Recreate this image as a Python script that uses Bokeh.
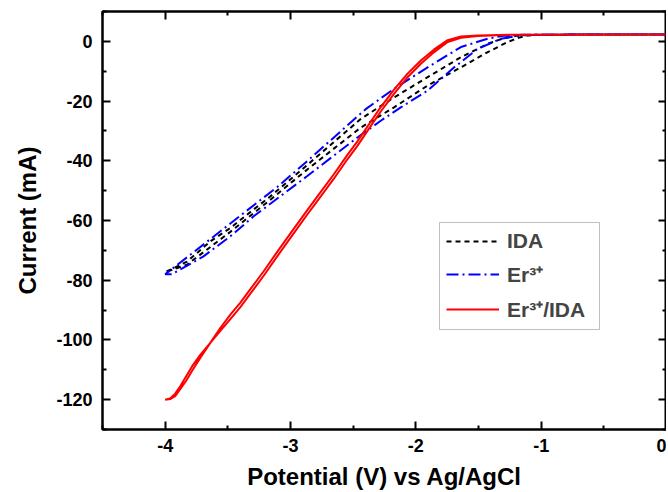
from bokeh.plotting import figure
from bokeh.models import Range1d, LinearAxis, FixedTicker, Legend, LegendItem
from bokeh.embed import file_html
from bokeh.resources import INLINE

# ---- data (potential in V vs Ag/AgCl, current in mA) ----
# IDA: cathodic sweep (0 -> -4 V) and return sweep (-4 -> 0 V)
ida_fwd_v = [0.0, -0.6, -1.0, -1.1, -1.18, -1.266, -1.426, -1.64, -1.906, -2.174, -2.44, -2.866, -3.174, -3.48, -3.826, -4.0]
ida_fwd_i = [2.3, 2.3, 2.2, 2.0, 1.2, -0.2, -3.6, -8.7, -14.8, -22.1, -28.9, -42.9, -53.5, -63.8, -74.8, -77.3]
ida_rev_v = [-4.0, -3.826, -3.64, -3.48, -3.294, -3.174, -2.866, -2.44, -2.174, -1.906, -1.64, -1.426, -1.3, -1.18, -1.05, -0.6, 0.0]
ida_rev_i = [-77.3, -73.8, -67.0, -62.5, -56.3, -52.4, -41.4, -26.0, -18.8, -12.0, -5.3, -0.8, 1.0, 2.0, 2.2, 2.3, 2.3]

# Er3+
er_fwd_v = [0.0, -0.6, -1.15, -1.32, -1.506, -1.694, -1.906, -2.12, -2.28, -2.466, -2.866, -3.294, -3.48, -3.694, -3.946, -4.0]
er_fwd_i = [2.3, 2.3, 2.1, 0.9, -2.5, -8.7, -16.5, -22.1, -26.6, -32.2, -45.1, -58.6, -65.3, -72.0, -78.0, -78.0]
er_rev_v = [-4.0, -3.8, -3.48, -3.106, -2.866, -2.4, -2.174, -1.906, -1.64, -1.426, -1.3, -1.15, -0.6, 0.0]
er_rev_i = [-78.0, -71.5, -61.0, -48.8, -40.1, -22.7, -15.9, -8.7, -1.9, 0.9, 1.9, 2.2, 2.3, 2.3]

# Er3+/IDA
erida_fwd_v = [0.0, -1.24, -1.506, -1.64, -1.746, -1.854, -1.96, -2.066, -2.174, -2.28, -2.386, -2.466,
               -2.546, -2.654, -2.76, -2.866, -2.986, -3.106, -3.214, -3.32, -3.40, -3.48, -3.56, -3.64,
               -3.72, -3.78, -3.83, -3.88, -3.92, -3.96, -4.0]
erida_fwd_i = [2.3, 2.2, 1.8, 1.2, -0.2, -3.6, -7.5, -12.0, -17.6, -23.5, -30.0, -35.0,
               -39.5, -46.0, -52.0, -58.0, -65.0, -72.0, -78.5, -84.5, -89.0, -93.0, -97.0, -101.0,
               -105.0, -108.5, -112.0, -115.5, -118.0, -119.6, -120.0]
erida_rev_v = [-4.0, -3.96, -3.92, -3.88, -3.83, -3.78, -3.72, -3.64, -3.56, -3.48, -3.40, -3.32,
               -3.214, -3.106, -2.986, -2.866, -2.76, -2.654, -2.546, -2.466, -2.386, -2.28, -2.174,
               -2.066, -1.96, -1.854, -1.746, -1.64, -1.506, -1.24, 0.0]
erida_rev_i = [-120.0, -119.8, -118.8, -116.5, -113.5, -110.0, -106.0, -101.0, -96.0, -91.5, -87.5, -83.0,
               -77.0, -70.5, -63.5, -56.5, -50.5, -44.5, -38.0, -33.5, -28.5, -22.0, -16.2,
               -10.8, -6.4, -2.7, 0.4, 1.6, 2.0, 2.2, 2.3]

series_labels = ["IDA", "Er\u00b3\u207a", "Er\u00b3\u207a/IDA"]

x_major = [-4, -3, -2, -1, 0]
x_minor = [-4.5, -3.5, -2.5, -1.5, -0.5]
y_major = [-120, -100, -80, -60, -40, -20, 0]
y_minor = [-130, -110, -90, -70, -50, -30, -10, 10]

FONT = "Liberation Sans"

p = figure(width=666, height=492, x_range=Range1d(-4.5, 0.0), y_range=Range1d(-130, 10),
           output_backend="svg", toolbar_location=None,
           min_border_left=102, min_border_right=0, min_border_top=11, min_border_bottom=0,
           x_axis_label="Potential (V) vs Ag/AgCl", y_axis_label="Current (mA)")
p.grid.visible = False
p.outline_line_color = "black"
p.outline_line_width = 2
p.background_fill_color = "white"
p.border_fill_color = "white"

xt = FixedTicker(ticks=x_major, minor_ticks=x_minor)
yt = FixedTicker(ticks=y_major, minor_ticks=y_minor)


def style_axis(ax, show_labels=True):
    ax.axis_line_width = 2
    ax.axis_line_color = "black"
    ax.major_tick_in = 8
    ax.major_tick_out = 0
    ax.minor_tick_in = 4
    ax.minor_tick_out = 0
    ax.major_tick_line_width = 2
    ax.minor_tick_line_width = 2
    ax.major_label_text_font = FONT
    ax.major_label_text_font_style = "bold"
    ax.axis_label_text_font = FONT
    ax.axis_label_text_font_style = "bold"
    ax.axis_label_text_color = "black"
    ax.axis_label_text_font_size = "24px"
    if show_labels:
        ax.major_label_text_font_size = "18px"
        ax.major_label_text_color = "black"
    else:
        ax.major_label_text_font_size = "0px"
        ax.major_label_text_color = None
        ax.major_label_standoff = 0


xa = p.xaxis[0]
xa.ticker = xt
style_axis(xa)
xa.major_label_overrides = {v: str(v) for v in x_major}
xa.major_label_standoff = 9
xa.axis_label_standoff = 8

ya = p.yaxis[0]
ya.ticker = yt
style_axis(ya)
ya.major_label_overrides = {v: str(v) for v in y_major}
ya.major_label_standoff = 10
ya.axis_label_standoff = 12

top = LinearAxis(ticker=xt)
style_axis(top, show_labels=False)
p.add_layout(top, "above")
right = LinearAxis(ticker=yt)
style_axis(right, show_labels=False)
p.add_layout(right, "right")

r_ida = p.line(ida_fwd_v + ida_rev_v, ida_fwd_i + ida_rev_i, line_color="black", line_width=2,
               line_dash="5 4")
r_er = p.line(er_fwd_v + er_rev_v, er_fwd_i + er_rev_i, line_color="#0000ff", line_width=2,
              line_dash="12 4 2 4")
r_erida = p.line(erida_fwd_v + erida_rev_v, erida_fwd_i + erida_rev_i, line_color="#ff0000",
                 line_width=2)

legend = Legend(items=[LegendItem(label=series_labels[0], renderers=[r_ida]),
                       LegendItem(label=series_labels[1], renderers=[r_er]),
                       LegendItem(label=series_labels[2], renderers=[r_erida])],
                location=(337, 99))
legend.label_text_font = FONT
legend.label_text_font_style = "bold"
legend.label_text_font_size = "21px"
legend.label_height = 22
legend.glyph_height = 22
legend.glyph_width = 53
legend.label_width = 86
legend.label_standoff = 8
legend.spacing = 7
legend.padding = 6
legend.margin = 0
legend.border_line_color = "#808080"
legend.border_line_width = 1.5
legend.background_fill_alpha = 1.0
p.add_layout(legend, "center")

open("out.html", "w").write(file_html(p, INLINE))
